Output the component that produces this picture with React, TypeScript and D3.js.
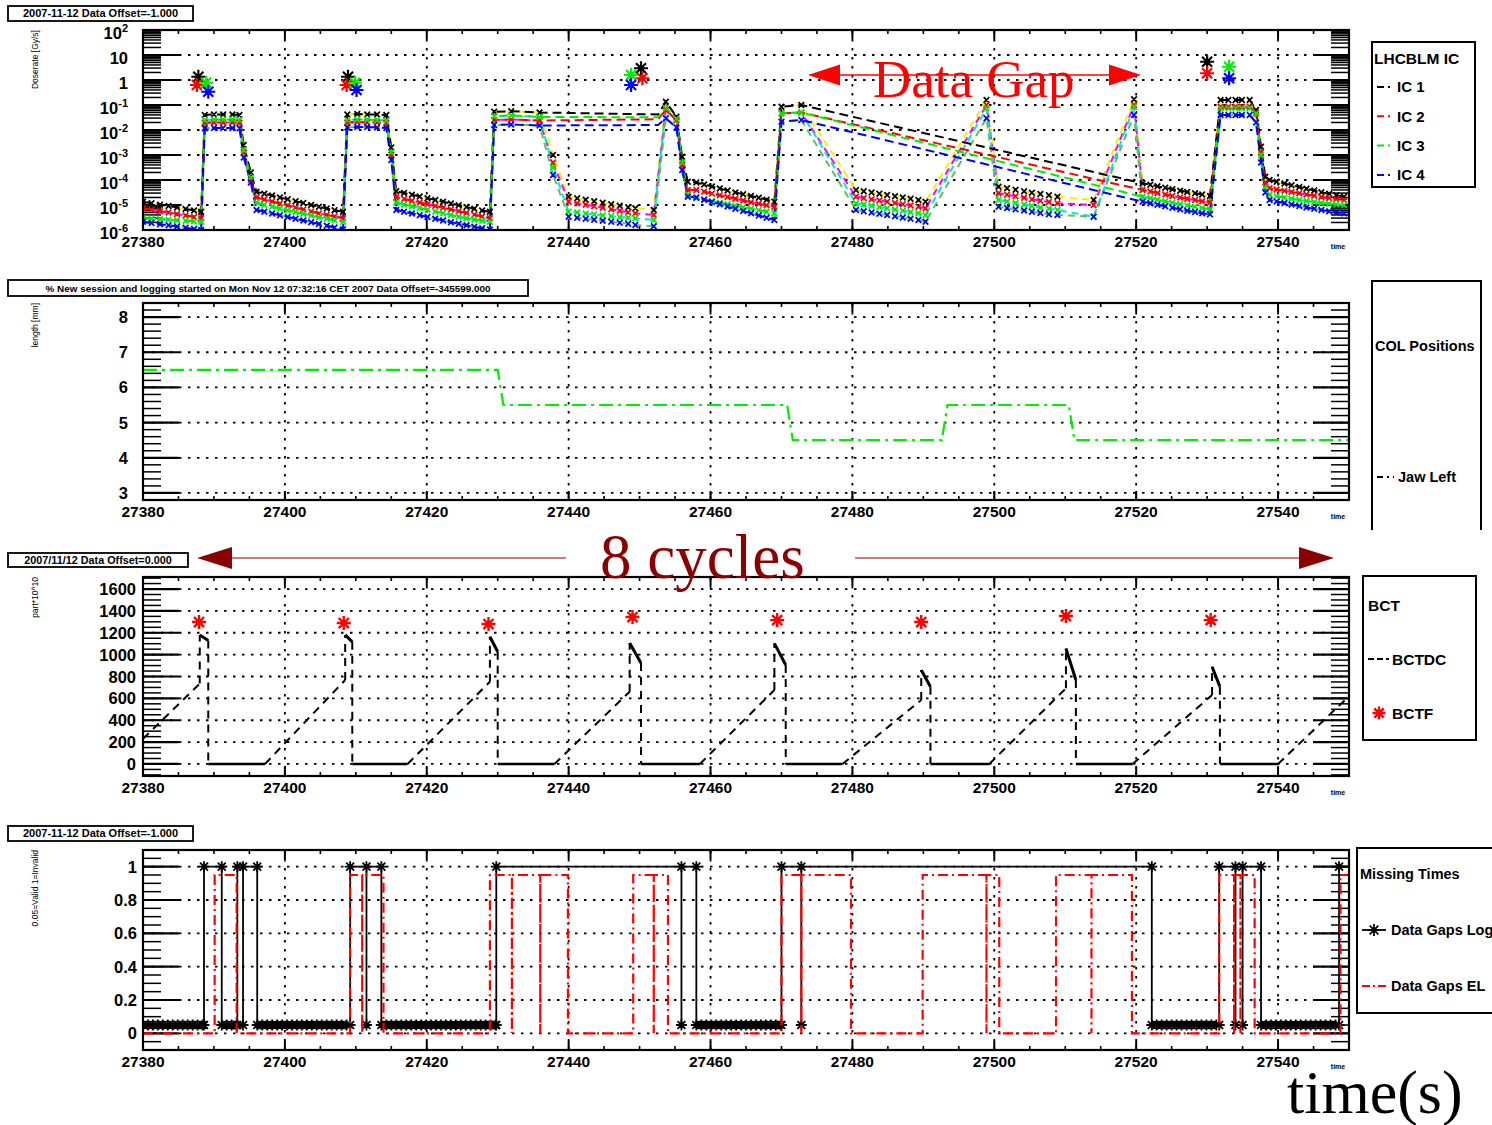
import * as d3 from 'd3';
import React, { useEffect, useRef } from 'react';

// shared time axis (s)
const timeDomain = [27380, 27550];
const timeTicks = [27380, 27400, 27420, 27440, 27460, 27480, 27500, 27520, 27540];

// ---- pad 1 : LHCBLM IC dose rate, stored as log10(Gy/s) ----
const icTime = [
  27380.0, 27381.2, 27382.4, 27383.6, 27384.8, 27386.0, 27387.2, 27388.2,
  27388.7, 27390.0, 27391.3, 27392.6, 27393.6,
  27394.2, 27395.2, 27396.0,
  27397.1, 27398.2, 27399.3, 27400.4, 27401.5, 27402.6, 27403.7, 27404.8, 27405.9, 27407.0, 27408.2,
  27408.8, 27410.2, 27411.6, 27413.0, 27414.3,
  27415.0, 27415.7,
  27416.8, 27417.9, 27419.0, 27420.1, 27421.2, 27422.3, 27423.4, 27424.5, 27425.6, 27426.7, 27427.8, 27428.9,
  27429.5, 27431.9, 27435.9,
  27437.8,
  27440.0, 27441.2, 27442.4, 27443.6, 27444.8, 27446.0, 27447.2, 27448.4, 27449.4,
  27452.0,
  27453.7,
  27455.2, 27456.0, 27456.8,
  27458.0, 27459.1, 27460.2, 27461.3, 27462.4, 27463.5, 27464.6, 27465.7, 27466.8, 27467.9, 27469.0,
  27470.0, 27472.8,
  27480.5, 27481.6, 27482.7, 27483.8, 27484.9, 27486.0, 27487.1, 27488.2, 27489.3, 27490.3,
  27498.9,
  27500.6, 27501.8, 27503.0, 27504.2, 27505.3, 27506.5, 27507.7, 27508.9,
  27514.0,
  27519.7,
  27520.9, 27522.0, 27523.0, 27524.1, 27525.1, 27526.2, 27527.2, 27528.3, 27529.3, 27530.4,
  27531.9, 27533.0, 27534.0, 27534.9, 27536.0, 27536.9,
  27537.6, 27538.2,
  27538.8, 27539.8, 27540.9, 27541.9, 27543.0, 27544.0, 27545.1, 27546.1, 27547.2, 27548.2, 27549.3,
];
const ic1LogDose = [
  -4.87, -4.93, -4.99, -5.04, -5.10, -5.16, -5.22, -5.27,
  -1.40, -1.38, -1.38, -1.38, -1.40,
  -2.60, -3.70, -4.47,
  -4.55, -4.62, -4.70, -4.77, -4.85, -4.92, -5.00, -5.07, -5.14, -5.21, -5.27,
  -1.38, -1.36, -1.38, -1.38, -1.40,
  -2.70, -4.45,
  -4.52, -4.59, -4.66, -4.73, -4.80, -4.87, -4.94, -5.01, -5.08, -5.15, -5.22, -5.27,
  -1.27, -1.25, -1.30,
  -3.00,
  -4.67, -4.73, -4.79, -4.85, -4.91, -4.97, -5.03, -5.09, -5.13,
  -5.20,
  -0.87,
  -1.47, -3.07, -4.07,
  -4.10, -4.18, -4.26, -4.34, -4.42, -4.50, -4.57, -4.64, -4.71, -4.79, -4.87,
  -1.07, -1.00,
  -4.40, -4.45, -4.50, -4.55, -4.60, -4.65, -4.70, -4.75, -4.80, -4.87,
  -0.80,
  -4.27, -4.33, -4.39, -4.45, -4.51, -4.56, -4.61, -4.67,
  -4.80,
  -0.77,
  -4.13, -4.19, -4.25, -4.31, -4.37, -4.43, -4.48, -4.53, -4.58, -4.64,
  -0.80, -0.80, -0.80, -0.80, -0.80, -1.20,
  -2.67, -3.87,
  -4.00, -4.07, -4.14, -4.21, -4.28, -4.35, -4.42, -4.49, -4.55, -4.61, -4.67,
];
const ic2LogDose = [
  -5.13, -5.19, -5.25, -5.30, -5.36, -5.42, -5.48, -5.53,
  -1.71, -1.70, -1.70, -1.70, -1.71,
  -2.90, -4.00, -4.70,
  -4.78, -4.86, -4.94, -5.02, -5.10, -5.18, -5.26, -5.34, -5.40, -5.46, -5.53,
  -1.70, -1.68, -1.70, -1.70, -1.72,
  -3.00, -4.70,
  -4.76, -4.83, -4.90, -4.97, -5.04, -5.11, -5.18, -5.25, -5.32, -5.39, -5.46, -5.53,
  -1.60, -1.58, -1.62,
  -3.30,
  -4.87, -4.93, -4.99, -5.05, -5.11, -5.17, -5.23, -5.29, -5.33,
  -5.40,
  -1.20,
  -1.60, -3.40, -4.40,
  -4.40, -4.47, -4.54, -4.61, -4.68, -4.75, -4.82, -4.89, -4.95, -5.01, -5.07,
  -1.33, -1.30,
  -4.67, -4.72, -4.77, -4.82, -4.87, -4.92, -4.97, -5.02, -5.07, -5.13,
  -1.00,
  -4.53, -4.59, -4.65, -4.71, -4.77, -4.83, -4.88, -4.93,
  -5.00,
  -1.00,
  -4.40, -4.46, -4.52, -4.58, -4.64, -4.70, -4.75, -4.80, -4.85, -4.90,
  -1.07, -1.07, -1.07, -1.07, -1.07, -1.30,
  -2.90, -4.10,
  -4.33, -4.38, -4.43, -4.48, -4.53, -4.58, -4.63, -4.68, -4.72, -4.76, -4.80,
];
const ic3LogDose = [
  -5.53, -5.55, -5.57, -5.59, -5.61, -5.63, -5.65, -5.67,
  -1.60, -1.58, -1.58, -1.58, -1.60,
  -2.80, -3.90, -4.90,
  -5.00, -5.07, -5.14, -5.21, -5.28, -5.35, -5.42, -5.49, -5.55, -5.61, -5.67,
  -1.60, -1.58, -1.58, -1.60, -1.62,
  -2.90, -4.90,
  -4.98, -5.05, -5.12, -5.19, -5.26, -5.33, -5.40, -5.47, -5.53, -5.58, -5.63, -5.67,
  -1.45, -1.42, -1.48,
  -3.50,
  -5.27, -5.30, -5.34, -5.38, -5.42, -5.45, -5.48, -5.51, -5.53,
  -5.60,
  -1.13,
  -1.55, -3.30, -4.60,
  -4.73, -4.79, -4.85, -4.91, -4.97, -5.03, -5.09, -5.15, -5.21, -5.27, -5.33,
  -1.33, -1.30,
  -4.93, -4.98, -5.03, -5.08, -5.13, -5.18, -5.23, -5.28, -5.33, -5.40,
  -1.13,
  -4.80, -4.86, -4.92, -4.98, -5.04, -5.10, -5.15, -5.20,
  -5.47,
  -1.07,
  -4.67, -4.73, -4.79, -4.85, -4.91, -4.97, -5.02, -5.07, -5.12, -5.17,
  -1.13, -1.13, -1.13, -1.13, -1.13, -1.35,
  -3.00, -4.30,
  -4.60, -4.65, -4.70, -4.75, -4.80, -4.84, -4.88, -4.92, -4.95, -4.98, -5.00,
];
const ic4LogDose = [
  -5.67, -5.72, -5.77, -5.81, -5.86, -5.91, -5.96, -6.00,
  -1.93, -1.92, -1.92, -1.92, -1.93,
  -3.10, -4.10, -5.20,
  -5.27, -5.34, -5.41, -5.48, -5.55, -5.62, -5.69, -5.76, -5.83, -5.90, -5.97,
  -1.90, -1.88, -1.88, -1.90, -1.92,
  -3.20, -5.20,
  -5.27, -5.34, -5.41, -5.48, -5.55, -5.62, -5.69, -5.75, -5.81, -5.87, -5.93, -5.98,
  -1.80, -1.78, -1.82,
  -3.80,
  -5.47, -5.51, -5.55, -5.59, -5.63, -5.67, -5.71, -5.75, -5.80,
  -5.85,
  -1.53,
  -1.90, -3.60, -4.67,
  -4.70, -4.79, -4.88, -4.97, -5.06, -5.15, -5.24, -5.33, -5.42, -5.51, -5.60,
  -1.67, -1.60,
  -5.20, -5.25, -5.30, -5.35, -5.40, -5.45, -5.50, -5.55, -5.60, -5.67,
  -1.53,
  -5.07, -5.12, -5.17, -5.22, -5.27, -5.32, -5.37, -5.40,
  -5.47,
  -1.40,
  -4.87, -4.93, -4.99, -5.05, -5.11, -5.17, -5.23, -5.28, -5.33, -5.37,
  -1.40, -1.40, -1.40, -1.40, -1.40, -1.70,
  -3.30, -4.50,
  -4.80, -4.86, -4.92, -4.98, -5.04, -5.10, -5.15, -5.20, -5.25, -5.30, -5.33,
];
// logged IC lines jump over these ranges; extra logged point inside the first gap
const icLogGaps = [[27436, 27453.5], [27473, 27520.5]];
const icBridgeTime = [27452.6];
const icBridgeLogDose = [[-1.38], [-1.57], [-1.49], [-1.80]];
// big asterisks at each injection
const icInjTime = [
  [27387.8, 27408.9, 27450.2, 27530.0],
  [27387.6, 27408.7, 27450.4, 27530.0],
  [27388.9, 27409.9, 27448.8, 27533.1],
  [27389.2, 27410.1, 27448.8, 27533.1],
];
const icInjLogDose = [
  [0.13, 0.13, 0.47, 0.73],
  [-0.2, -0.2, 0.07, 0.27],
  [-0.11, -0.11, 0.2, 0.53],
  [-0.47, -0.4, -0.2, 0.07],
];
const icNames = ['IC 1', 'IC 2', 'IC 3', 'IC 4'];

// ---- pad 2 : collimator jaw ----
const colTime = [27380, 27430.0, 27430.8, 27470.8, 27471.6, 27492.6, 27493.4, 27510.5, 27511.3, 27550];
const colJawLeft = [6.5, 6.5, 5.5, 5.5, 4.5, 4.5, 5.5, 5.5, 4.5, 4.5];

// ---- pad 3 : beam current (part*10^10) ----
const bctRampStartTime = [27380.0, 27397.2, 27417.3, 27438.0, 27458.5, 27478.6, 27499.3, 27519.5, 27540.0];
const bctRampStartValue = [230, 0, 0, 0, 0, 0, 0, 0, 0];
const bctPeakTime = [27388.0, 27408.5, 27428.9, 27448.6, 27469.0, 27489.7, 27510.1, 27530.7, 27550.0];
const bctRampTopValue = [735, 768, 752, 661, 676, 585, 692, 631, 620];
const bctJumpTopValue = [1180, 1180, 1164, 1106, 1103, 859, 1057, 889];
const bctDropTime = [27389.2, 27409.5, 27430.0, 27450.2, 27470.6, 27491.0, 27511.5, 27531.8];
const bctDropValue = [1130, 1117, 1026, 923, 905, 707, 768, 707];
const bctfTime = [27387.9, 27408.3, 27428.7, 27449.0, 27469.4, 27489.7, 27510.1, 27530.5];
const bctfValue = [1298, 1289, 1280, 1344, 1316, 1298, 1353, 1316];

// ---- pad 4 : missing times ----
const logValid = 0.05;
const logInvalid = 1;
const logGapStart = [27388.6, 27393.3, 27409.2, 27429.8, 27470.0, 27531.7, 27548.6];
const logGapEnd = [27391.1, 27396.1, 27413.6, 27458.0, 27522.2, 27537.6, 27550.0];
const logGapDips = [[], [27394.1], [27411.5], [27455.9], [27472.8], [27534.0, 27535.0], []];
const logSamplePeriod = 0.7;
const elValid = 0;
const elInvalid = 0.95;
const elGapStart = [27390.1, 27409.2, 27428.9, 27449.1, 27470.0, 27489.9, 27508.7, 27531.7, 27548.8];
const elGapEnd = [27393.2, 27413.9, 27439.9, 27454.0, 27479.8, 27500.7, 27519.4, 27536.7, 27550.0];
const elGapDips = [[], [27410.9], [27432.0, 27436.0], [27452.0], [27472.8], [27498.9], [27513.7], [27533.8, 27534.7], []];

const FONT = "'Liberation Sans', Arial, Helvetica, sans-serif";
const SERIF = "'Liberation Serif', 'Times New Roman', serif";
const icColors = ['#000000', '#ff0000', '#00ee00', '#0000ff'];
const elColors = ['#f5f000', '#ff00ff', '#00e5e5', '#5fbf5f'];
const L = 143;
const R = 1349;

const x = d3.scaleLinear().domain(timeDomain).range([L, R]);

function xMark(cx, cy, r) {
  return `M${cx - r},${cy - r}L${cx + r},${cy + r}M${cx - r},${cy + r}L${cx + r},${cy - r}`;
}
function starMark(cx, cy, r) {
  const k = r * 0.72;
  return `M${cx - r},${cy}H${cx + r}M${cx},${cy - r}V${cy + r}` +
    `M${cx - k},${cy - k}L${cx + k},${cy + k}M${cx - k},${cy + k}L${cx + k},${cy - k}`;
}

function axes(svg, y, top, bottom, majors, minors, labelRight, labelShift, fmt) {
  const g = svg.append('g');
  const inside = (v) => y(v) > top + 2 && y(v) < bottom - 2;
  const grid = g.append('g').attr('stroke', '#000').attr('stroke-width', 1.8).attr('stroke-dasharray', '2.5,6.5');
  grid.append('g').selectAll('line').data(majors.filter(inside)).join('line')
    .attr('x1', L).attr('x2', R).attr('y1', (d) => y(d)).attr('y2', (d) => y(d));
  grid.append('g').selectAll('line').data(timeTicks.slice(1)).join('line')
    .attr('x1', (d) => x(d)).attr('x2', (d) => x(d)).attr('y1', top).attr('y2', bottom);

  const tk = g.append('g').attr('stroke', '#000');
  const yMinor = minors.filter((v) => y(v) >= top && y(v) <= bottom);
  [[L, 1], [R, -1]].forEach(([edge, dir]) => {
    tk.append('g').attr('stroke-width', 1.5).selectAll('line').data(yMinor).join('line')
      .attr('x1', edge).attr('x2', edge + dir * 18).attr('y1', (d) => y(d)).attr('y2', (d) => y(d));
    tk.append('g').attr('stroke-width', 2.2).selectAll('line').data(majors).join('line')
      .attr('x1', edge).attr('x2', edge + dir * 36).attr('y1', (d) => y(d)).attr('y2', (d) => y(d));
  });
  const xMinor = d3.range(timeDomain[0], timeDomain[1] + 0.1, 5);
  [[top, 1], [bottom, -1]].forEach(([edge, dir]) => {
    tk.append('g').attr('stroke-width', 1.6).selectAll('line').data(xMinor).join('line')
      .attr('x1', (d) => x(d)).attr('x2', (d) => x(d)).attr('y1', edge).attr('y2', edge + dir * 4);
    tk.append('g').attr('stroke-width', 2).selectAll('line').data(timeTicks).join('line')
      .attr('x1', (d) => x(d)).attr('x2', (d) => x(d)).attr('y1', edge).attr('y2', edge + dir * 9);
  });

  g.append('g').selectAll('text').data(timeTicks).join('text')
    .attr('x', (d) => x(d)).attr('y', bottom + 17)
    .attr('text-anchor', 'middle').attr('font-family', FONT).attr('font-weight', 'bold')
    .attr('font-size', 15.5).text((d) => d);

  majors.forEach((v) => {
    const [base, sup] = fmt(v);
    const t = g.append('text').attr('x', labelRight).attr('y', y(v) + 6 + labelShift)
      .attr('text-anchor', 'end').attr('font-family', FONT).attr('font-weight', 'bold').attr('font-size', 16.5);
    t.append('tspan').text(base);
    if (sup) t.append('tspan').attr('dy', -7).attr('font-size', 11).text(sup);
  });

  g.append('text').attr('x', 1338).attr('y', bottom + 19).attr('text-anchor', 'middle')
    .attr('font-family', FONT).attr('font-weight', 'bold').attr('font-size', 7).text('time');
  return g;
}

function frame(svg, top, bottom) {
  svg.append('rect').attr('x', L).attr('y', top).attr('width', R - L).attr('height', bottom - top)
    .attr('fill', 'none').attr('stroke', '#000').attr('stroke-width', 2.2);
}

function clip(svg, id, top, bottom) {
  svg.append('clipPath').attr('id', id).append('rect')
    .attr('x', L).attr('y', top).attr('width', R - L).attr('height', bottom - top);
}

function titleBox(svg, x0, y0, w, h, size, text) {
  svg.append('rect').attr('x', x0).attr('y', y0).attr('width', w).attr('height', h)
    .attr('fill', '#fff').attr('stroke', '#000').attr('stroke-width', 1.8);
  svg.append('text').attr('x', x0 + w / 2).attr('y', y0 + h / 2 + size * 0.36)
    .attr('text-anchor', 'middle').attr('font-family', FONT).attr('font-weight', 'bold')
    .attr('font-size', size).text(text);
}

function yTitle(svg, top, text) {
  svg.append('text').attr('transform', `translate(38,${top}) rotate(-90)`)
    .attr('text-anchor', 'end').attr('font-family', FONT).attr('font-size', 8.5).text(text);
}

function legendText(svg, x0, y0, size, text) {
  svg.append('text').attr('x', x0).attr('y', y0 + size * 0.36).attr('font-family', FONT)
    .attr('font-weight', 'bold').attr('font-size', size).text(text);
}

function arrow(svg, x1, x2, tipX, baseX, yy, half, color, width) {
  svg.append('line').attr('x1', x1).attr('x2', x2).attr('y1', yy).attr('y2', yy)
    .attr('stroke', color).attr('stroke-width', width);
  svg.append('path').attr('d', `M${tipX},${yy}L${baseX},${yy - half}L${baseX},${yy + half}Z`).attr('fill', color);
}

function stepPoints(starts, ends, dips, lo, hi) {
  const pts = [[timeDomain[0], lo]];
  starts.forEach((s, i) => {
    pts.push([s, lo], [s, hi]);
    dips[i].forEach((d) => pts.push([d, hi], [d, lo], [d, hi]));
    if (ends[i] < timeDomain[1]) pts.push([ends[i], hi], [ends[i], lo]);
    else pts.push([timeDomain[1], hi]);
  });
  if (pts[pts.length - 1][1] === lo) pts.push([timeDomain[1], lo]);
  return pts;
}

export default function App() {
  const svgRef = useRef(null);

  useEffect(() => {
    const svg = d3.select(svgRef.current);
    svg.selectAll('*').remove();
    svg.append('rect').attr('width', 1492).attr('height', 1125).attr('fill', '#fff');
    const defs = svg.append('defs');

    // ================= pad 1 =================
    const t1 = 30, b1 = 230;
    const y1 = d3.scaleLog().domain([1e-6, 1e2]).range([b1, t1]);
    const logMajors = d3.range(-6, 3).map((e) => Math.pow(10, e));
    const logMinors = [];
    d3.range(-6, 2).forEach((e) => d3.range(2, 10).forEach((m) => logMinors.push(m * Math.pow(10, e))));
    axes(svg, y1, t1, b1, logMajors, logMinors, 128, 2.5, (v) => {
      const e = Math.round(Math.log10(v));
      if (e === 0) return ['1', ''];
      if (e === 1) return ['10', ''];
      return ['10', String(e)];
    });
    clip(defs, 'clip1', t1, b1);
    const line1 = d3.line().x((d) => x(d[0])).y((d) => y1(Math.pow(10, d[1])));
    const d1 = svg.append('g').attr('clip-path', 'url(#clip1)').attr('fill', 'none');
    const icLogDose = [ic1LogDose, ic2LogDose, ic3LogDose, ic4LogDose];
    icLogDose.forEach((vals, i) => {
      d1.append('path').attr('d', line1(icTime.map((t, k) => [t, vals[k]])))
        .attr('stroke', elColors[i]).attr('stroke-width', 2).attr('stroke-dasharray', '7,5')
        .attr('stroke-dashoffset', i * 3);
    });
    icLogDose.forEach((vals, i) => {
      const pts = icTime.map((t, k) => [t, vals[k]])
        .filter(([t]) => !icLogGaps.some(([a, b]) => t > a && t < b));
      icBridgeTime.forEach((t, k) => pts.push([t, icBridgeLogDose[i][k]]));
      pts.sort((a, b) => a[0] - b[0]);
      d1.append('path').attr('d', line1(pts)).attr('stroke', icColors[i]).attr('stroke-width', 2)
        .attr('stroke-dasharray', '9,5');
    });
    icLogDose.forEach((vals, i) => {
      d1.append('path').attr('d', icTime.map((t, k) => xMark(x(t), y1(Math.pow(10, vals[k])), 2.8)).join(''))
        .attr('stroke', icColors[i]).attr('stroke-width', 1.7);
    });
    icInjTime.forEach((times, i) => {
      d1.append('path')
        .attr('d', times.map((t, k) => starMark(x(t), y1(Math.pow(10, icInjLogDose[i][k])), 7)).join(''))
        .attr('stroke', icColors[i]).attr('stroke-width', 2.2);
    });
    frame(svg, t1, b1);
    titleBox(svg, 8, 6, 185, 15, 11, '2007-11-12 Data Offset=-1.000');
    yTitle(svg, t1, 'Doserate [Gy/s]');
    // legend 1
    svg.append('rect').attr('x', 1372).attr('y', 42).attr('width', 103).attr('height', 145)
      .attr('fill', '#fff').attr('stroke', '#000').attr('stroke-width', 2);
    legendText(svg, 1374, 58, 15.5, 'LHCBLM IC');
    icNames.forEach((name, i) => {
      const yy = 87 + i * 29.3;
      svg.append('line').attr('x1', 1377).attr('x2', 1394).attr('y1', yy).attr('y2', yy)
        .attr('stroke', icColors[i]).attr('stroke-width', 2).attr('stroke-dasharray', '7,4,2,4');
      legendText(svg, 1397, yy, 15, name);
    });
    // "Data Gap" annotation
    svg.append('text').attr('x', 873).attr('y', 97).attr('font-family', SERIF).attr('font-size', 53)
      .attr('fill', '#ff0000').text('Data Gap');
    arrow(svg, 835, 1112, 808, 840, 75, 10.5, '#ff0000', 1.6);
    arrow(svg, 1112, 1112, 1141, 1109, 75, 10.5, '#ff0000', 1.6);

    // ================= pad 2 =================
    const t2 = 303, b2 = 500;
    const y2 = d3.scaleLinear().domain([2.8, 8.4]).range([b2, t2]);
    axes(svg, y2, t2, b2, [3, 4, 5, 6, 7, 8], d3.range(14, 43).map((k) => k * 0.2), 128, 0, (v) => [String(v), '']);
    clip(defs, 'clip2', t2, b2);
    svg.append('g').attr('clip-path', 'url(#clip2)').append('path')
      .attr('d', d3.line().x((d) => x(d[0])).y((d) => y2(d[1]))(colTime.map((t, k) => [t, colJawLeft[k]])))
      .attr('fill', 'none').attr('stroke', '#00ee00').attr('stroke-width', 2.2)
      .attr('stroke-dasharray', '14,5,3,5');
    frame(svg, t2, b2);
    titleBox(svg, 8, 280, 520, 16, 9.9,
      '% New session and logging started on Mon Nov 12 07:32:16 CET 2007 Data Offset=-345599.000');
    yTitle(svg, t2, 'length [mm]');
    svg.append('path').attr('d', 'M1372,530V281H1481V530').attr('fill', 'none')
      .attr('stroke', '#000').attr('stroke-width', 2);
    legendText(svg, 1375, 346, 14.5, 'COL Positions');
    svg.append('line').attr('x1', 1377).attr('x2', 1394).attr('y1', 477).attr('y2', 477)
      .attr('stroke', '#000').attr('stroke-width', 2).attr('stroke-dasharray', '6,4,2,4');
    legendText(svg, 1398, 477, 14.5, 'Jaw Left');

    // ================= pad 3 =================
    const t3 = 577, b3 = 776;
    const y3 = d3.scaleLinear().domain([-110, 1710]).range([b3, t3]);
    axes(svg, y3, t3, b3, d3.range(0, 1601, 200), d3.range(-100, 1701, 50), 136, 0, (v) => [String(v), '']);
    clip(defs, 'clip3', t3, b3);
    const d3g = svg.append('g').attr('clip-path', 'url(#clip3)').attr('fill', 'none').attr('stroke', '#000');
    const seg = (a, b, dashed, w) => {
      d3g.append('line').attr('x1', x(a[0])).attr('y1', y3(a[1])).attr('x2', x(b[0])).attr('y2', y3(b[1]))
        .attr('stroke-width', w).attr('stroke-dasharray', dashed ? '8,6' : null);
    };
    bctRampStartTime.forEach((t0, i) => {
      seg([t0, bctRampStartValue[i]], [bctPeakTime[i], bctRampTopValue[i]], true, 2);
      if (i >= bctDropTime.length) return;
      seg([bctPeakTime[i], bctRampTopValue[i]], [bctPeakTime[i], bctJumpTopValue[i]], true, 2);
      seg([bctPeakTime[i], bctJumpTopValue[i]], [bctDropTime[i], bctDropValue[i]], false, 3);
      seg([bctDropTime[i], bctDropValue[i]], [bctDropTime[i], 0], true, 2);
      seg([bctDropTime[i], 0], [bctRampStartTime[i + 1], 0], false, 2.4);
    });
    d3g.append('path').attr('d', bctfTime.map((t, k) => starMark(x(t), y3(bctfValue[k]), 7)).join(''))
      .attr('stroke', '#ff0000').attr('stroke-width', 2.4);
    frame(svg, t3, b3);
    titleBox(svg, 8, 553, 180, 14, 10.8, '2007/11/12 Data Offset=0.000');
    yTitle(svg, t3, 'part*10^10');
    svg.append('rect').attr('x', 1363).attr('y', 576).attr('width', 113).attr('height', 164)
      .attr('fill', '#fff').attr('stroke', '#000').attr('stroke-width', 2);
    legendText(svg, 1368, 605, 15.5, 'BCT');
    svg.append('line').attr('x1', 1368).attr('x2', 1389).attr('y1', 659).attr('y2', 659)
      .attr('stroke', '#000').attr('stroke-width', 2).attr('stroke-dasharray', '6,3');
    legendText(svg, 1392, 659, 15.5, 'BCTDC');
    svg.append('path').attr('d', starMark(1379, 713, 6.5)).attr('stroke', '#ff0000').attr('stroke-width', 2.4);
    legendText(svg, 1392, 713, 15.5, 'BCTF');
    // "8 cycles" annotation
    svg.append('text').attr('x', 600).attr('y', 578).attr('font-family', SERIF).attr('font-size', 63)
      .attr('fill', '#8b0000').text('8 cycles');
    arrow(svg, 230, 566, 197, 232, 558, 11, '#8b0000', 1.2);
    arrow(svg, 855, 1300, 1334, 1299, 558, 11, '#8b0000', 1.2);

    // ================= pad 4 =================
    const t4 = 850, b4 = 1050;
    const y4 = d3.scaleLinear().domain([-0.1, 1.1]).range([b4, t4]);
    axes(svg, y4, t4, b4, [0, 0.2, 0.4, 0.6, 0.8, 1], d3.range(-2, 23).map((k) => k * 0.05), 137, 0,
      (v) => [v === 0 ? '0' : v === 1 ? '1' : v.toFixed(1), '']);
    clip(defs, 'clip4', t4, b4);
    const d4 = svg.append('g').attr('clip-path', 'url(#clip4)').attr('fill', 'none');
    const line4 = d3.line().x((d) => x(d[0])).y((d) => y4(d[1]));
    d4.append('path').attr('d', line4(stepPoints(logGapStart, logGapEnd, logGapDips, logValid, logInvalid)))
      .attr('stroke', '#000').attr('stroke-width', 1.8);
    // log markers: every logged sample while valid, plus each edge of a gap
    const marks = [];
    const validFrom = [timeDomain[0], ...logGapEnd];
    validFrom.forEach((a, i) => {
      const b = i < logGapStart.length ? logGapStart[i] : timeDomain[1];
      if (a >= timeDomain[1]) return;
      d3.range(a, b, logSamplePeriod).forEach((t) => marks.push([t, logValid]));
    });
    logGapStart.forEach((s, i) => {
      marks.push([s, logValid], [s, logInvalid]);
      logGapDips[i].forEach((d) => marks.push([d, logValid], [d, logInvalid]));
      if (logGapEnd[i] < timeDomain[1]) marks.push([logGapEnd[i], logValid], [logGapEnd[i], logInvalid]);
    });
    d4.append('path').attr('d', marks.map(([t, v]) => starMark(x(t), y4(v), 5.5)).join(''))
      .attr('stroke', '#000').attr('stroke-width', 1.8);
    d4.append('path').attr('d', line4(stepPoints(elGapStart, elGapEnd, elGapDips, elValid, elInvalid)))
      .attr('stroke', '#ff0000').attr('stroke-width', 2.2).attr('stroke-dasharray', '10,4,2,4');
    frame(svg, t4, b4);
    titleBox(svg, 8, 826, 185, 15, 11, '2007-11-12 Data Offset=-1.000');
    yTitle(svg, t4, '0.05=Valid 1=Invalid');
    svg.append('rect').attr('x', 1357).attr('y', 848).attr('width', 160).attr('height', 165)
      .attr('fill', '#fff').attr('stroke', '#000').attr('stroke-width', 2);
    legendText(svg, 1360, 874, 14.5, 'Missing Times');
    svg.append('line').attr('x1', 1362).attr('x2', 1386).attr('y1', 930).attr('y2', 930)
      .attr('stroke', '#000').attr('stroke-width', 1.8);
    svg.append('path').attr('d', starMark(1374, 930, 6)).attr('stroke', '#000').attr('stroke-width', 1.8);
    legendText(svg, 1391, 930, 14.5, 'Data Gaps Log');
    svg.append('line').attr('x1', 1362).attr('x2', 1386).attr('y1', 986).attr('y2', 986)
      .attr('stroke', '#ff0000').attr('stroke-width', 2.2).attr('stroke-dasharray', '8,3,2,3');
    legendText(svg, 1391, 986, 14.5, 'Data Gaps EL');

    svg.append('text').attr('x', 1287).attr('y', 1113).attr('font-family', SERIF).attr('font-size', 62)
      .attr('fill', '#000').text('time(s)');
  }, []);

  return (
    <svg
      ref={svgRef}
      width={1492}
      height={1125}
      style={{ position: 'absolute', left: 0, top: 0 }}
    />
  );
}
